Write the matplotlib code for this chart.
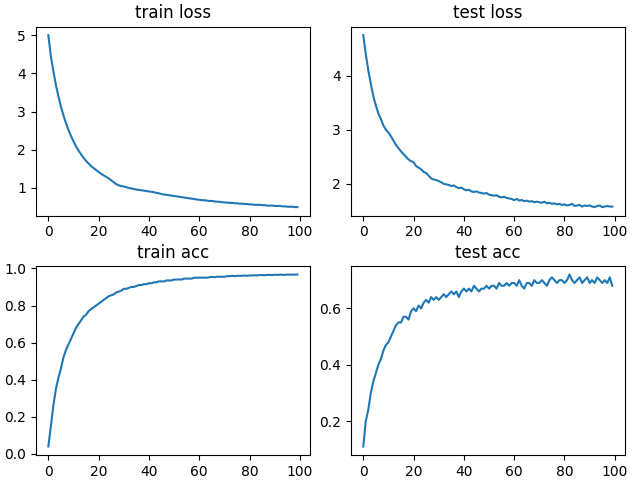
import matplotlib
matplotlib.use("Agg")
import matplotlib.pyplot as plt

epochs = list(range(100))
train_loss = [5.0,4.45,4.05,3.7,3.4,3.13,2.9,2.7,2.52,2.36,
2.22,2.09,1.98,1.88,1.79,1.71,1.64,1.57,1.52,1.47,
1.42,1.37,1.33,1.29,1.25,1.2,1.15,1.1,1.07,1.05,
1.04,1.02,1.0,0.99,0.97,0.96,0.95,0.94,0.93,0.92,
0.91,0.9,0.89,0.87,0.86,0.84,0.83,0.82,0.81,0.80,
0.79,0.78,0.77,0.76,0.75,0.74,0.73,0.72,0.71,0.70,
0.69,0.68,0.68,0.67,0.66,0.66,0.65,0.64,0.64,0.63,
0.62,0.62,0.61,0.61,0.60,0.60,0.59,0.59,0.58,0.58,
0.57,0.57,0.56,0.56,0.56,0.55,0.55,0.54,0.54,0.54,
0.53,0.53,0.53,0.52,0.52,0.51,0.51,0.51,0.50,0.50]
test_loss = [4.75,4.4,4.1,3.85,3.62,3.45,3.3,3.2,3.08,3.0,
2.95,2.88,2.8,2.72,2.66,2.6,2.55,2.5,2.45,2.42,
2.4,2.33,2.3,2.27,2.22,2.2,2.15,2.1,2.08,2.07,
2.05,2.03,2.0,1.99,1.98,1.96,1.97,1.94,1.92,1.93,
1.9,1.88,1.89,1.86,1.85,1.86,1.84,1.83,1.82,1.83,
1.8,1.79,1.78,1.79,1.76,1.75,1.76,1.74,1.73,1.72,
1.7,1.72,1.69,1.7,1.68,1.69,1.67,1.68,1.66,1.67,
1.66,1.65,1.67,1.64,1.65,1.63,1.64,1.62,1.63,1.61,
1.62,1.6,1.61,1.63,1.59,1.6,1.61,1.58,1.6,1.59,
1.6,1.58,1.57,1.59,1.6,1.57,1.58,1.59,1.58,1.58]
train_acc = [0.04,0.15,0.26,0.35,0.41,0.46,0.52,0.56,0.59,0.62,
0.65,0.68,0.7,0.72,0.74,0.75,0.77,0.78,0.79,0.8,
0.81,0.82,0.83,0.84,0.85,0.855,0.86,0.87,0.875,0.88,
0.89,0.89,0.895,0.9,0.9,0.905,0.91,0.91,0.915,0.915,
0.92,0.92,0.925,0.925,0.93,0.93,0.93,0.935,0.935,0.935,
0.94,0.94,0.94,0.94,0.945,0.945,0.945,0.945,0.95,0.95,
0.95,0.95,0.95,0.95,0.952,0.955,0.952,0.955,0.955,0.955,
0.955,0.958,0.958,0.96,0.958,0.96,0.96,0.96,0.962,0.96,
0.962,0.962,0.963,0.962,0.964,0.964,0.963,0.965,0.965,0.964,
0.966,0.965,0.966,0.966,0.965,0.967,0.966,0.967,0.966,0.967]
test_acc = [0.11,0.2,0.24,0.3,0.34,0.37,0.4,0.42,0.45,0.47,
0.48,0.5,0.52,0.54,0.55,0.55,0.57,0.57,0.56,0.59,
0.6,0.59,0.61,0.6,0.62,0.63,0.62,0.64,0.63,0.64,
0.63,0.64,0.65,0.64,0.65,0.66,0.65,0.66,0.64,0.66,
0.67,0.66,0.67,0.66,0.68,0.67,0.66,0.67,0.67,0.68,
0.67,0.68,0.68,0.67,0.69,0.68,0.68,0.69,0.68,0.69,
0.69,0.68,0.7,0.68,0.67,0.69,0.69,0.68,0.7,0.69,
0.69,0.7,0.69,0.68,0.7,0.71,0.7,0.69,0.7,0.7,
0.69,0.7,0.72,0.7,0.69,0.7,0.71,0.69,0.7,0.71,
0.69,0.7,0.69,0.71,0.7,0.69,0.7,0.69,0.71,0.68]

titles = ["train loss", "test loss", "train acc", "test acc"]
series = [train_loss, test_loss, train_acc, test_acc]

fig, axes = plt.subplots(2, 2, figsize=(6.34, 4.83), dpi=100)
for ax, t, s in zip(axes.flat, titles, series):
    ax.plot(epochs, s)
    ax.set_title(t)
fig.tight_layout(pad=0.3)
fig.savefig("out.png")
